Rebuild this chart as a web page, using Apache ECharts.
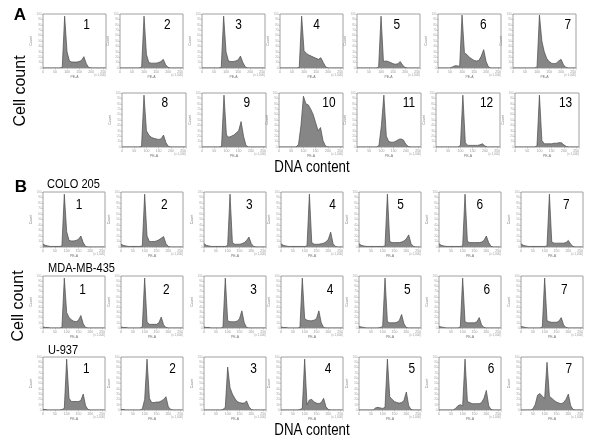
<!DOCTYPE html>
<html><head><meta charset="utf-8">
<script src="https://cdn.jsdelivr.net/npm/echarts@6/dist/echarts.min.js"></script>
<style>html,body{margin:0;padding:0;background:#fff}#c{width:600px;height:442px}</style>
</head><body><div id="c"></div>
<script>
// DNA content bin positions (x 1,000)
const binX = [0,10,20,30,40,50,60,70,80,90,100,110,120,130,140,150,160,170,180,190,200,210,220,230,240,250,260];
const xTicks = [0,50,100,150,200,250];

// Panel A histograms (cell count, % of max)
const a1  = [0,0,0,0,0,0,0,0,1,96,30,13,11,11,11,12,14,21,8,1,0,0,0,0,0,0,0];
const a2  = [0,0,0,0,0,0,0,0,0,2,96,25,10,9,9,9,10,12,16,6,1,0,0,0,0,0,0];
const a3  = [0,0,0,0,0,0,0,0,1,96,30,13,12,12,13,15,22,10,2,0,0,0,0,0,0,0,0];
const a4  = [0,0,0,0,0,0,0,0,1,96,32,27,24,22,20,18,16,19,10,2,0,0,0,0,0,0,0];
const a5  = [0,0,0,0,0,0,0,0,0,2,96,12,13,12,10,8,7,8,12,5,1,0,0,0,0,0,0];
const a6  = [0,0,0,0,0,0,2,4,4,3,98,28,25,20,17,14,13,14,22,34,12,2,0,0,0,0,0];
const a7  = [0,0,0,0,0,0,0,0,0,0,2,98,50,30,18,12,9,8,9,13,16,6,1,0,0,0,0];
const a8  = [0,0,0,0,0,0,0,0,1,96,30,22,18,16,15,14,15,22,8,1,0,0,0,0,0,0,0];
const a9  = [0,0,0,0,0,0,0,0,1,96,22,18,20,22,26,30,47,20,3,0,0,0,0,0,0,0,0];
const a10 = [0,0,0,0,0,0,0,0,5,40,94,80,78,70,60,45,30,36,12,2,0,0,0,0,0,0,0];
const a11 = [0,0,0,0,0,0,0,0,0,3,40,96,20,10,9,9,11,14,15,13,5,1,0,0,0,0,0];
const a12 = [0,0,0,0,0,0,0,0,0,0,3,96,8,3,3,3,3,3,4,6,2,0,0,0,0,0,0];
const a13 = [0,0,0,0,0,0,0,0,0,2,96,12,6,6,6,6,7,7,8,8,4,1,0,0,0,0,0];

// Panel B: COLO 205
const c1 = [5,3,2,1,1,1,1,1,2,96,28,12,11,11,12,14,20,8,1,0,0,0,0,0,0,0,0];
const c2 = [5,3,2,1,1,1,1,1,1,2,96,20,10,10,10,11,13,16,19,6,1,0,0,0,0,0,0];
const c3 = [6,3,2,1,1,1,1,1,1,1,3,96,8,5,5,5,6,8,12,18,6,1,0,0,0,0,0];
const c4 = [6,3,2,1,1,1,1,1,1,1,1,2,96,8,5,5,5,6,7,9,14,27,6,1,0,0,0];
const c5 = [6,3,2,1,1,1,1,1,1,1,1,2,96,10,8,8,8,8,9,11,15,22,6,1,0,0,0];
const c6 = [6,3,2,1,1,1,1,1,1,1,2,96,10,8,8,8,8,8,9,12,20,8,1,0,0,0,0];
const c7 = [6,3,2,1,1,1,1,1,1,1,1,2,96,9,7,7,7,7,7,8,12,5,1,0,0,0,0];
// MDA-MB-435
const m1 = [2,1,1,0,0,0,0,0,1,96,30,20,16,13,12,15,24,8,1,0,0,0,0,0,0,0,0];
const m2 = [2,1,1,0,0,0,0,0,0,2,96,12,7,7,7,7,10,21,6,1,0,0,0,0,0,0,0];
const m3 = [2,1,1,0,0,0,0,0,1,96,14,12,12,12,13,18,33,10,1,0,0,0,0,0,0,0,0];
const m4 = [2,1,1,0,0,0,0,0,1,96,18,15,14,14,15,18,33,10,1,0,0,0,0,0,0,0,0];
const m5 = [3,2,1,0,0,0,0,0,0,1,3,96,12,10,10,10,11,14,26,8,1,0,0,0,0,0,0];
const m6 = [3,2,1,0,0,0,0,0,0,2,96,12,10,10,10,10,12,20,6,1,0,0,0,0,0,0,0];
const m7 = [3,2,1,0,0,0,0,0,0,2,96,14,12,11,11,11,13,20,6,1,0,0,0,0,0,0,0];
// U-937
const u1 = [1,1,0,0,0,0,0,0,1,3,96,22,16,16,16,16,18,30,8,1,0,0,0,0,0,0,0];
const u2 = [1,1,0,0,0,0,0,0,0,2,20,96,22,14,14,15,15,17,20,25,6,1,0,0,0,0,0];
const u3 = [0,0,0,0,0,0,0,0,1,5,81,42,30,22,16,14,13,13,17,6,1,0,0,0,0,0,0];
const u4 = [0,0,0,0,0,0,0,0,1,3,96,10,19,20,15,13,12,14,22,6,1,0,0,0,0,0,0];
const u5 = [0,0,0,0,0,0,0,4,5,4,3,5,96,25,20,16,14,13,14,18,34,8,1,0,0,0,0];
const u6 = [0,0,0,0,0,0,0,3,8,10,8,96,16,14,12,12,12,12,14,22,37,8,1,0,0,0,0];
const u7 = [0,0,0,0,0,2,10,28,31,26,22,90,26,22,18,15,13,12,14,20,30,8,1,0,0,0,0];

const panelLabels = ['1','2','3','4','5','6','7','8','9','10','11','12','13'];
const rowNames = ['COLO 205','MDA-MB-435','U-937'];

// ---- layout ----
const FONT = 'Liberation Sans, Arial, Helvetica, sans-serif';
const aRow1Left = [43,120,202,280,357,438,513];
const aRow2Left = [122,202,279,357,436,515];
const bLeft = [43,121,204,281,359,439,521];
const aRow1LX = [0.69,0.75,0.58,0.58,0.63,0.72,0.87];
const aRow2LX = [0.67,0.7,0.78,0.81,0.79,0.79];
const bLX = [[0.58,0.7,0.73,0.83,0.67,0.66,0.73],[0.64,0.73,0.8,0.79,0.78,0.77,0.7],[0.7,0.83,0.8,0.76,0.85,0.84,0.77]];

const panels = [];
const aData1 = [a1,a2,a3,a4,a5,a6,a7];
const aData2 = [a8,a9,a10,a11,a12,a13];
aData1.forEach((d,i)=>panels.push({data:d,label:panelLabels[i],left:aRow1Left[i],top:14,w:63,h:54,lx:aRow1LX[i],ly:11}));
aData2.forEach((d,i)=>panels.push({data:d,label:panelLabels[7+i],left:aRow2Left[i],top:93,w:64,h:54,lx:aRow2LX[i],ly:10}));
const bData = [[c1,c2,c3,c4,c5,c6,c7],[m1,m2,m3,m4,m5,m6,m7],[u1,u2,u3,u4,u5,u6,u7]];
const bTop = [192,276,357], bH = [55,52,53], bLY = [13,14,12];
bData.forEach((row,r)=>row.forEach((d,i)=>panels.push({data:d,label:panelLabels[i],left:bLeft[i],top:bTop[r],w:62,h:bH[r],lx:bLX[r][i],ly:bLY[r]})));

const grid=[], xAxis=[], yAxis=[], series=[], graphic=[];
panels.forEach((p,i)=>{
  grid.push({left:p.left,top:p.top,width:p.w,height:p.h,show:true,borderColor:'#a0a0a0',borderWidth:1,backgroundColor:'#fff'});
  xAxis.push({type:'value',gridIndex:i,min:0,max:262,interval:50,
    axisLine:{show:false},
    axisTick:{show:true,length:1.5,lineStyle:{color:'#999',width:0.5}},
    minorTick:{show:true,splitNumber:5,length:1,lineStyle:{color:'#bbb',width:0.5}},
    splitLine:{show:false},
    axisLabel:{fontSize:3.5,color:'#999',margin:2,showMaxLabel:false,fontFamily:FONT},
    name:'PE-A',nameLocation:'middle',nameGap:7,nameTextStyle:{fontSize:3.5,color:'#777',fontFamily:FONT}});
  yAxis.push({type:'value',gridIndex:i,min:0,max:100,interval:10,
    axisLine:{show:false},
    axisTick:{show:true,length:1.5,lineStyle:{color:'#999',width:0.5}},
    splitLine:{show:false},
    axisLabel:{fontSize:3,color:'#aaa',margin:1.5,fontFamily:FONT},
    name:'Count',nameLocation:'middle',nameGap:7,nameRotate:90,nameTextStyle:{fontSize:3.5,color:'#777',fontFamily:FONT}});
  series.push({type:'line',xAxisIndex:i,yAxisIndex:i,data:binX.map((x,j)=>[x,p.data[j]]),
    symbol:'none',silent:true,animation:false,
    lineStyle:{color:'#4a4a4a',width:0.7},
    areaStyle:{color:'#868686',opacity:1}});
  graphic.push({type:'text',x:p.left+p.lx*p.w,y:p.top+p.ly,scaleX:0.85,silent:true,
    style:{text:p.label,fontSize:14,fontFamily:FONT,fill:'#000',textAlign:'center',textVerticalAlign:'middle'}});
  graphic.push({type:'text',x:p.left+p.w,y:p.top+p.h+7,silent:true,
    style:{text:'(x 1,000)',fontSize:3,fontFamily:FONT,fill:'#999',textAlign:'right',textVerticalAlign:'middle'}});
});

const big = (text,x,y,opts={}) => Object.assign({type:'text',x:x,y:y,silent:true,scaleX:opts.scaleX||1,rotation:opts.rot||0,
  style:{text:text,fontSize:opts.size||16,fontWeight:opts.bold?'bold':'normal',fontFamily:FONT,fill:'#000',
    textAlign:opts.align||'center',textVerticalAlign:'middle'}});
graphic.push(big('A',20,15,{size:17,bold:true}));
graphic.push(big('B',21,187,{size:17,bold:true}));
graphic.push(big('Cell count',21,91,{rot:Math.PI/2}));
graphic.push(big('Cell count',19,306,{rot:Math.PI/2}));
graphic.push(big('DNA content',312,168,{scaleX:0.83}));
graphic.push(big('DNA content',312,431,{scaleX:0.83}));
graphic.push(big(rowNames[0],47,184,{size:13,scaleX:0.85,align:'left'}));
graphic.push(big(rowNames[1],48,268,{size:13,scaleX:0.85,align:'left'}));
graphic.push(big(rowNames[2],48,350,{size:13,scaleX:0.85,align:'left'}));

const chart = echarts.init(document.getElementById('c'),null,{renderer:'canvas'});
chart.setOption({animation:false,backgroundColor:'#fff',grid,xAxis,yAxis,series,graphic});
</script>
</body></html>
